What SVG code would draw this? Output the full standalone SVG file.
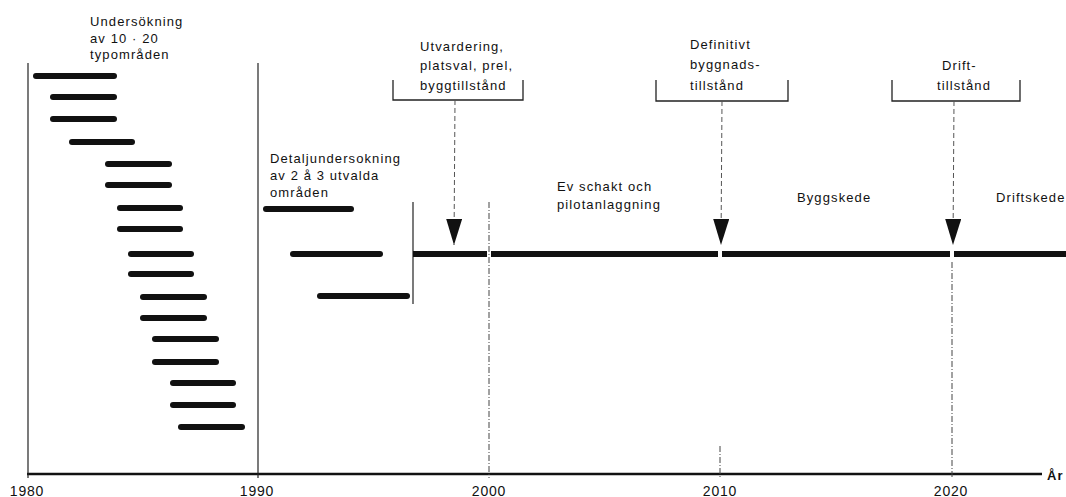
<svg xmlns="http://www.w3.org/2000/svg" width="1066" height="497" viewBox="0 0 1066 497">
  <style>
    .lbl { font-family: "Liberation Sans", Arial, sans-serif; font-size: 13px; letter-spacing: 1.1px; fill: #111; }
    .yr { font-family: "Liberation Sans", Arial, sans-serif; font-size: 14px; letter-spacing: 0.8px; fill: #111; text-anchor: middle; }
    .bar { stroke: #111; stroke-width: 6; stroke-linecap: round; fill: none; }
    .main { stroke: #111; stroke-width: 6; fill: none; }
    .frame { stroke: #222; stroke-width: 1.2; fill: none; }
    .guide { stroke: #444; stroke-width: 1; stroke-dasharray: 6 2 1 2; fill: none; }
    .brk { stroke: #222; stroke-width: 1.3; fill: none; }
    .stem { stroke: #555; stroke-width: 1; stroke-dasharray: 5 3; fill: none; }
  </style>
  <defs>
    <!-- filled arrowhead pointing along the line direction -->
    <marker id="head" markerWidth="26" markerHeight="16" refX="26" refY="8" orient="auto" markerUnits="userSpaceOnUse" viewBox="0 0 26 16">
      <path d="M0,0 L26,8 L0,16 Z" fill="#111"/>
    </marker>
  </defs>
  <rect width="1066" height="497" fill="#fff"/>

  <!-- time axis with decade ticks -->
  <g id="axis">
    <line x1="27" y1="474" x2="1042" y2="474" stroke="#111" stroke-width="2.5"/>
    <line x1="28" y1="63" x2="28" y2="478" class="frame"/>
    <line x1="258" y1="63" x2="258" y2="478" class="frame"/>
    <line x1="489" y1="202" x2="489" y2="478" class="guide"/>
    <line x1="720" y1="446" x2="720" y2="478" class="guide"/>
    <line x1="952" y1="262" x2="952" y2="478" class="guide"/>
    <text class="yr" x="27" y="496">1980</text>
    <text class="yr" x="257" y="496">1990</text>
    <text class="yr" x="489" y="496">2000</text>
    <text class="yr" x="720" y="496">2010</text>
    <text class="yr" x="951" y="496">2020</text>
    <text class="lbl" x="1047" y="480" font-weight="bold" letter-spacing="1">År</text>
  </g>

  <!-- survey of 10-20 type areas -->
  <g id="typomraden">
    <text class="lbl" x="90" y="26">Undersökning</text>
    <text class="lbl" x="90" y="43">av 10 · 20</text>
    <text class="lbl" x="90" y="59">typområden</text>
    <line class="bar" x1="36" y1="76" x2="114" y2="76"/>
    <line class="bar" x1="53" y1="97" x2="114" y2="97"/>
    <line class="bar" x1="53" y1="119" x2="114" y2="119"/>
    <line class="bar" x1="72" y1="142" x2="132" y2="142"/>
    <line class="bar" x1="108" y1="164" x2="169" y2="164"/>
    <line class="bar" x1="108" y1="185" x2="169" y2="185"/>
    <line class="bar" x1="120" y1="208" x2="180" y2="208"/>
    <line class="bar" x1="120" y1="229" x2="180" y2="229"/>
    <line class="bar" x1="131" y1="254" x2="191" y2="254"/>
    <line class="bar" x1="131" y1="274" x2="191" y2="274"/>
    <line class="bar" x1="143" y1="297" x2="204" y2="297"/>
    <line class="bar" x1="143" y1="318" x2="204" y2="318"/>
    <line class="bar" x1="155" y1="339" x2="216" y2="339"/>
    <line class="bar" x1="155" y1="362" x2="216" y2="362"/>
    <line class="bar" x1="173" y1="383" x2="233" y2="383"/>
    <line class="bar" x1="173" y1="405" x2="233" y2="405"/>
    <line class="bar" x1="181" y1="427" x2="242" y2="427"/>
  </g>

  <!-- detailed survey of 2-3 selected areas -->
  <g id="detaljundersokning">
    <text class="lbl" x="270" y="163">Detaljundersokning</text>
    <text class="lbl" x="270" y="180">av 2 å 3 utvalda</text>
    <text class="lbl" x="270" y="197">områden</text>
    <line class="bar" x1="266" y1="209" x2="351" y2="209"/>
    <line class="bar" x1="293" y1="254" x2="380" y2="254"/>
    <line class="bar" x1="320" y1="296" x2="407" y2="296"/>
    <line x1="413" y1="202" x2="413" y2="304" class="frame"/>
  </g>

  <!-- main project line -->
  <g id="huvudlinje">
    <line class="main" x1="413" y1="254" x2="487" y2="254"/>
    <line class="main" x1="491" y1="254" x2="718" y2="254"/>
    <line class="main" x1="722" y1="254" x2="950" y2="254"/>
    <line class="main" x1="954" y1="254" x2="1066" y2="254"/>
  </g>

  <g id="faser">
    <text class="lbl" x="557" y="191">Ev schakt och</text>
    <text class="lbl" x="557" y="209">pilotanlaggning</text>
    <text class="lbl" x="797" y="202">Byggskede</text>
    <text class="lbl" x="996" y="202">Driftskede</text>
  </g>

  <!-- permit milestones -->
  <g id="byggtillstand">
    <path class="brk" d="M393,80 V100 H523 V80"/>
    <text class="lbl" x="420" y="51">Utvardering,</text>
    <text class="lbl" x="420" y="70">platsval, prel,</text>
    <text class="lbl" x="420" y="90">byggtillstånd</text>
  </g>
  <g id="byggnadstillstand">
    <path class="brk" d="M656,80 V101 H788 V80"/>
    <text class="lbl" x="690" y="49">Definitivt</text>
    <text class="lbl" x="690" y="69">byggnads-</text>
    <text class="lbl" x="690" y="90">tillstånd</text>
  </g>
  <g id="drifttillstand">
    <path class="brk" d="M892,80 V101 H1020 V80"/>
    <text class="lbl" x="942" y="70">Drift-</text>
    <text class="lbl" x="937" y="90">tillstånd</text>
  </g>

  <g id="connectors">
    <line class="stem" x1="455" y1="100" x2="454" y2="245" marker-end="url(#head)"/>
    <line class="stem" x1="722" y1="101" x2="721" y2="245" marker-end="url(#head)"/>
    <line class="stem" x1="954" y1="101" x2="953" y2="245" marker-end="url(#head)"/>
  </g>
</svg>
